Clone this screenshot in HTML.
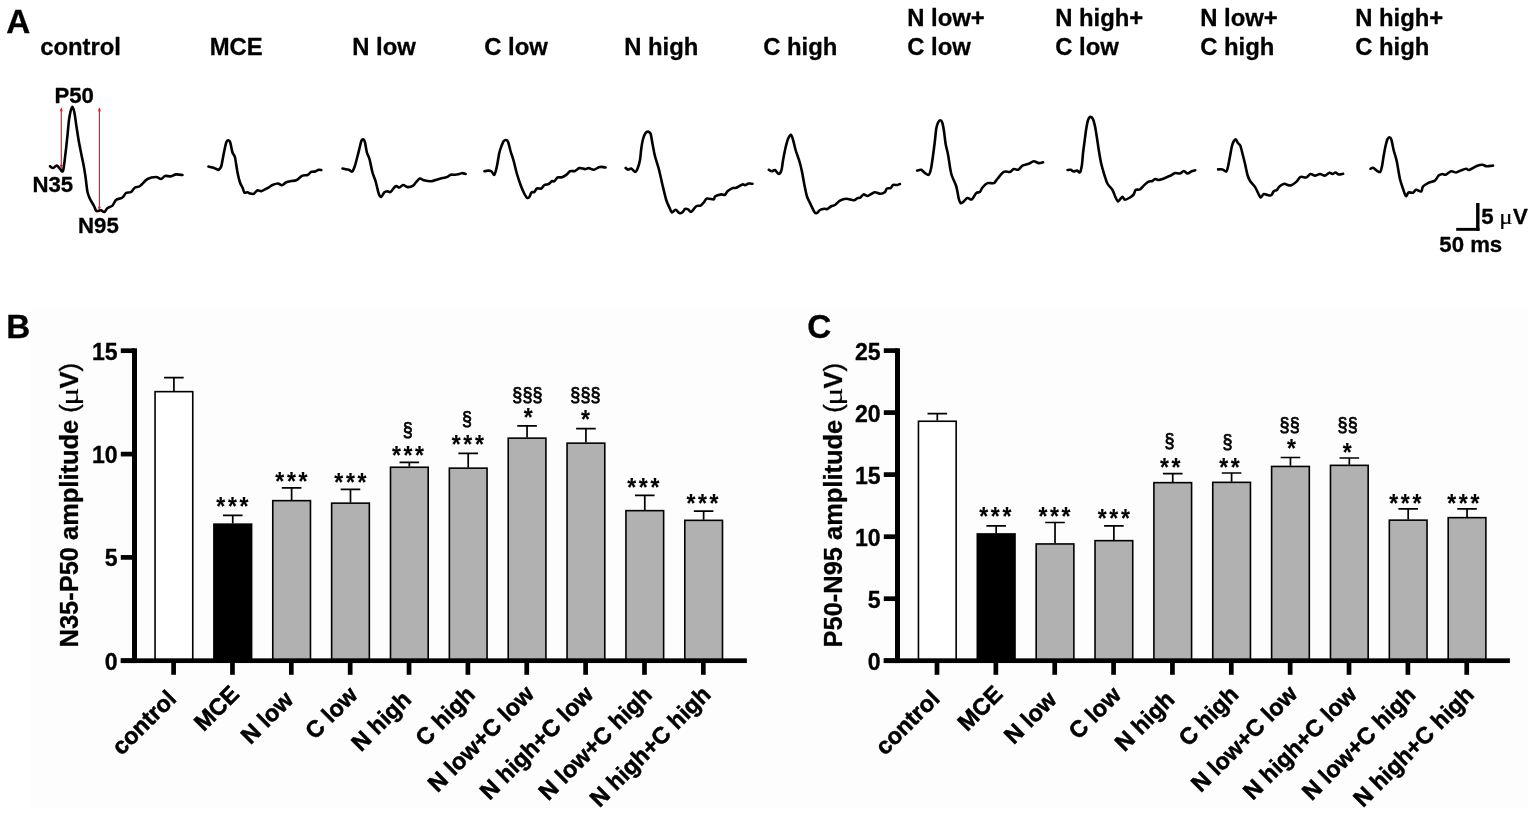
<!DOCTYPE html>
<html lang="en"><head><meta charset="utf-8"><title>PERG traces and amplitudes</title>
<style>
html,body{margin:0;padding:0;background:#fff;}
body{width:1535px;height:815px;overflow:hidden;}
svg{display:block;filter:blur(0.45px);}
text{font-family:"Liberation Sans", sans-serif;font-weight:700;fill:#000;font-kerning:none;stroke:#000;stroke-width:0.3px;stroke-linejoin:round;}
.pl{font-size:33.3px;}
.tl{font-size:23.85px;}
.wl{font-size:22.2px;}
.tk{font-size:23.1px;}
.xl{font-size:23.4px;stroke-width:0.55px;}
.yl{font-size:25.45px;}
.mu{font-family:"Liberation Serif", serif;font-weight:400;stroke-width:0.2px;}
.pr{font-weight:400;stroke-width:0.45px;}
.st{font-size:25.5px;letter-spacing:2.97px;stroke-width:0.1px;}
.sc{font-size:20.4px;font-weight:400;letter-spacing:0.25px;stroke-width:0.75px;}
.tr{fill:none;stroke:#000;stroke-width:2.6;stroke-linejoin:round;stroke-linecap:round;}
.eb{fill:none;stroke:#000;stroke-width:1.7;}
.br{stroke:#000;stroke-width:1.6;}
.ar{fill:none;stroke:#e6201c;stroke-width:1.2;}
.ah{fill:#e6201c;stroke:none;}
</style></head><body>
<svg width="1535" height="815" viewBox="0 0 1535 815" role="img" aria-label="Pattern electroretinogram traces and amplitude bar charts">
<rect x="0" y="0" width="1535" height="815" fill="#fff"/>
<rect x="31" y="308" width="1497" height="500" fill="#fdfdfd"/>
<text transform="translate(6.2 32.8) scale(1 1.025)" class="pl">A</text>
<text transform="translate(6.3 338.2) scale(1 1.025)" class="pl">B</text>
<text transform="translate(807.3 338.2) scale(1 1.025)" class="pl">C</text>
<text x="40.2" y="54.7" class="tl">control</text>
<text x="209.7" y="54.7" class="tl">MCE</text>
<text x="352.2" y="54.7" class="tl">N low</text>
<text x="484.2" y="54.7" class="tl">C low</text>
<text x="624.2" y="54.7" class="tl">N high</text>
<text x="763.2" y="54.7" class="tl">C high</text>
<text x="907.2" y="25.7" class="tl">N low+</text>
<text x="907.2" y="54.7" class="tl">C low</text>
<text x="1055.2" y="25.7" class="tl">N high+</text>
<text x="1055.2" y="54.7" class="tl">C low</text>
<text x="1200.2" y="25.7" class="tl">N low+</text>
<text x="1200.2" y="54.7" class="tl">C high</text>
<text x="1355.2" y="25.7" class="tl">N high+</text>
<text x="1355.2" y="54.7" class="tl">C high</text>
<text transform="translate(54.4 102.7) scale(1 1.03)" class="wl">P50</text>
<text transform="translate(32.4 191.7) scale(1 1.03)" class="wl">N35</text>
<text transform="translate(78.1 232.6) scale(1 1.03)" class="wl">N95</text>
<path d="M61.3 108.5V167.5" class="ar"/><path d="M59.8 111.2L61.3 107.2L62.8 111.2ZM59.8 164.8L61.3 168.8L62.8 164.8Z" class="ah"/>
<path d="M99.4 108.5V209.5" class="ar"/><path d="M97.9 111.2L99.4 107.2L100.9 111.2ZM97.9 206.8L99.4 210.8L100.9 206.8Z" class="ah"/>
<path class="tr" d="M50 166.25C50.47 166.51 52.07 168.1 53.1 168C54.13 167.9 55.87 165.48 56.9 165.6C57.93 165.72 59.07 168.05 60 168.8C60.93 169.55 62.26 173.04 63.1 170.6C63.94 168.16 64.94 157.84 65.6 152.5C66.26 147.16 66.99 139.88 67.5 135C68.01 130.12 68.53 123.56 69 120C69.47 116.44 70.07 113.22 70.6 111.25C71.12 109.28 71.93 106.71 72.5 106.9C73.07 107.09 73.84 109.78 74.4 112.5C74.96 115.22 75.6 120.72 76.25 125C76.9 129.28 78 136.69 78.75 141C79.5 145.31 80.5 150 81.25 153.75C82 157.5 83.1 162.44 83.75 166C84.4 169.56 85.04 173.6 85.6 177.5C86.16 181.4 86.84 188.78 87.5 192C88.16 195.22 89.03 196.9 90 199C90.97 201.1 93.1 204.26 94 206C94.9 207.74 95.4 209.85 96 210.6C96.6 211.35 97.25 211.04 98 211C98.75 210.96 100.04 210.15 101 210.3C101.96 210.45 103.43 212.34 104.4 212C105.38 211.66 106.28 208.96 107.5 208C108.72 207.04 111.22 206.8 112.5 205.6C113.78 204.4 114.5 201.22 116 200C117.5 198.78 121 198.55 122.5 197.5C124 196.45 124.72 193.82 126 193C127.28 192.18 129.65 192.82 131 192C132.35 191.18 133.65 188.4 135 187.5C136.35 186.6 138.12 187.28 140 186C141.88 184.72 145.1 180.35 147.5 179C149.9 177.65 153.97 177 156 177C158.03 177 159.65 179.15 161 179C162.35 178.85 163.5 176.41 165 176C166.5 175.59 169.35 176.54 171 176.3C172.65 176.06 174.28 174.59 176 174.4C177.72 174.21 181.53 174.91 182.5 175"/>
<path class="tr" d="M208.5 166.5C209.1 166.65 211.33 167.12 212.5 167.5C213.67 167.88 215.36 168.66 216.3 169C217.24 169.34 218.01 170.16 218.75 169.75C219.49 169.34 220.61 168.09 221.25 166.25C221.89 164.41 222.44 160.31 223 157.5C223.56 154.69 224.47 149.84 225 147.5C225.53 145.16 225.97 142.99 226.5 141.9C227.03 140.81 227.94 140.16 228.5 140.25C229.06 140.34 229.65 140.66 230.25 142.5C230.85 144.34 231.79 150.25 232.5 152.5C233.21 154.75 234.25 154.5 235 157.5C235.75 160.5 236.75 168.75 237.5 172.5C238.25 176.25 239.25 180.25 240 182.5C240.75 184.75 241.84 186 242.5 187.5C243.16 189 243.65 191.79 244.4 192.5C245.15 193.21 246.66 192.1 247.5 192.25C248.34 192.4 249.06 193.28 250 193.5C250.94 193.72 252.62 194.24 253.75 193.75C254.88 193.26 256.38 190.62 257.5 190.25C258.62 189.88 259.75 191.57 261.25 191.25C262.75 190.93 265.81 189.04 267.5 188.1C269.19 187.16 270.93 185.69 272.5 185C274.07 184.31 276.59 183.46 278 183.5C279.41 183.54 280.66 185.44 281.9 185.25C283.14 185.06 284.85 182.89 286.25 182.25C287.65 181.61 289.75 181.3 291.25 181C292.75 180.7 294.56 181.06 296.25 180.25C297.94 179.44 300.81 176.39 302.5 175.6C304.19 174.81 306.19 175.56 307.5 175C308.81 174.44 310.12 172.43 311.25 171.9C312.38 171.38 313.88 171.82 315 171.5C316.12 171.18 317.81 169.97 318.75 169.75C319.69 169.53 320.88 169.96 321.25 170"/>
<path class="tr" d="M342.5 168.5C343.16 168.63 345.87 169.18 346.9 169.4C347.93 169.62 348.6 169.69 349.4 170C350.2 170.31 351.45 172.06 352.25 171.5C353.05 170.94 353.96 168.54 354.75 166.25C355.54 163.96 356.71 159.25 357.5 156.25C358.29 153.25 359.4 148.6 360 146.25C360.6 143.9 360.98 141.63 361.5 140.6C362.02 139.57 362.98 139.12 363.5 139.4C364.02 139.69 364.49 140.53 365 142.5C365.51 144.47 366.24 150.06 366.9 152.5C367.56 154.94 368.56 155.75 369.4 158.75C370.24 161.75 371.57 169.12 372.5 172.5C373.43 175.88 374.66 178.06 375.6 181.25C376.54 184.44 377.9 191.4 378.75 193.75C379.6 196.1 380.4 197.12 381.25 196.9C382.1 196.68 383.46 193.1 384.4 192.25C385.34 191.4 386.57 191.3 387.5 191.25C388.43 191.2 389.38 192.65 390.6 191.9C391.82 191.15 394.28 186.91 395.6 186.25C396.92 185.59 398.27 187.69 399.4 187.5C400.52 187.31 401.8 185.06 403.1 185C404.41 184.94 406.6 187.01 408.1 187.1C409.6 187.19 411.88 186.38 413.1 185.6C414.32 184.82 415.22 182.97 416.25 181.9C417.28 180.84 418.88 178.75 420 178.5C421.12 178.25 422.06 179.84 423.75 180.25C425.44 180.66 429.19 181.38 431.25 181.25C433.31 181.12 435.81 179.87 437.5 179.4C439.19 178.93 441 178.47 442.5 178.1C444 177.72 446.28 177.4 447.5 176.9C448.72 176.4 449.48 175.07 450.6 174.75C451.73 174.43 453.59 174.9 455 174.75C456.41 174.6 458.88 174 460 173.75C461.12 173.5 461.66 173.06 462.5 173.1C463.34 173.14 465.13 173.87 465.6 174"/>
<path class="tr" d="M484.4 171.25C484.95 171.15 487.07 170.6 488.1 170.6C489.13 170.6 490.31 170.63 491.25 171.25C492.19 171.87 493.55 175.5 494.4 174.75C495.25 174 496.15 169.59 496.9 166.25C497.65 162.91 498.65 155.69 499.4 152.5C500.15 149.31 501.25 146.72 501.9 145C502.55 143.28 503.13 141.75 503.75 141C504.37 140.25 505.35 139.87 506 140C506.65 140.13 507.41 140.21 508.1 141.9C508.79 143.59 509.75 148.35 510.6 151.25C511.45 154.15 512.81 157.88 513.75 161.25C514.69 164.62 515.87 170.19 516.9 173.75C517.93 177.31 519.57 182.19 520.6 185C521.63 187.81 522.81 190.59 523.75 192.5C524.69 194.41 526.05 197.09 526.9 197.75C527.75 198.41 528.71 197.69 529.4 196.9C530.09 196.11 530.75 193.25 531.5 192.5C532.25 191.75 533.59 192.5 534.4 191.9C535.21 191.3 535.87 189.01 536.9 188.5C537.93 187.99 540.12 189.03 541.25 188.5C542.38 187.97 543.27 185.68 544.4 185C545.52 184.32 547.62 184.56 548.75 184C549.88 183.44 551.05 181.66 551.9 181.25C552.75 180.84 553.56 181.81 554.4 181.25C555.24 180.69 556.38 178.1 557.5 177.5C558.62 176.9 560.49 177.72 561.9 177.25C563.31 176.78 565.68 175.3 566.9 174.4C568.12 173.5 568.78 171.76 570 171.25C571.22 170.74 573.59 171.47 575 171C576.41 170.53 577.9 168.38 579.4 168.1C580.9 167.81 583.6 169.1 585 169.1C586.4 169.1 587.44 168 588.75 168.1C590.06 168.2 592.25 169.88 593.75 169.75C595.25 169.62 597.53 167.68 598.75 167.25C599.97 166.82 600.87 166.86 601.9 166.9C602.93 166.94 605.05 167.41 605.6 167.5"/>
<path class="tr" d="M625.6 167.9C625.98 168.18 627.25 169.66 628.1 169.75C628.95 169.84 630.22 168.18 631.25 168.5C632.28 168.82 634.06 171.86 635 171.9C635.94 171.94 636.75 170.53 637.5 168.75C638.25 166.97 639.44 163 640 160C640.56 157 640.78 151.94 641.25 148.75C641.72 145.56 642.45 141.1 643.1 138.75C643.75 136.4 644.85 134.17 645.6 133.1C646.35 132.03 647.35 131.5 648.1 131.6C648.85 131.7 649.94 131.93 650.6 133.75C651.26 135.57 651.84 140.38 652.5 143.75C653.16 147.12 654.06 152.5 655 156.25C655.94 160 657.62 164.44 658.75 168.75C659.88 173.06 661.38 180.31 662.5 185C663.62 189.69 665.22 196.62 666.25 200C667.28 203.38 668.55 205.62 669.4 207.5C670.25 209.38 670.97 212.16 671.9 212.5C672.83 212.84 674.48 209.66 675.6 209.75C676.73 209.84 678.37 212.72 679.4 213.1C680.43 213.47 681.66 212.87 682.5 212.25C683.34 211.63 684.16 209.43 685 209C685.84 208.57 687.16 208.97 688.1 209.4C689.04 209.84 690.03 212.37 691.25 211.9C692.47 211.43 694.85 207.19 696.25 206.25C697.65 205.31 699.48 206.16 700.6 205.6C701.73 205.04 702.81 203.56 703.75 202.5C704.69 201.44 705.4 198.97 706.9 198.5C708.4 198.03 712.53 199.7 713.75 199.4C714.97 199.1 713.88 197.25 715 196.5C716.12 195.75 719.75 194.66 721.25 194.4C722.75 194.14 724.06 195.22 725 194.75C725.94 194.28 726.38 192.25 727.5 191.25C728.62 190.25 731.19 188.62 732.5 188.1C733.81 187.57 734.75 188.31 736.25 187.75C737.75 187.19 741.19 184.78 742.5 184.4C743.81 184.03 744.06 185.38 745 185.25C745.94 185.12 747.62 183.72 748.75 183.5C749.88 183.28 751.94 183.71 752.5 183.75"/>
<path class="tr" d="M768.75 169.75C769.22 169.97 770.96 171.21 771.9 171.25C772.84 171.29 773.97 169.59 775 170C776.03 170.41 777.77 174 778.75 174C779.73 174 780.85 172.1 781.5 170C782.15 167.9 782.49 163.38 783.1 160C783.72 156.62 784.85 150.69 785.6 147.5C786.35 144.31 787.29 140.66 788.1 138.75C788.91 136.84 790.25 134.56 791 134.75C791.75 134.94 792.41 137.71 793.1 140C793.79 142.29 794.65 146.81 795.6 150C796.55 153.19 798.45 158.06 799.4 161.25C800.35 164.44 801.15 167.69 801.9 171.25C802.65 174.81 803.65 181.25 804.4 185C805.15 188.75 806.06 193.53 806.9 196.25C807.74 198.97 808.88 200.75 810 203.1C811.12 205.45 813.37 210.4 814.4 211.9C815.43 213.4 816.06 213.38 816.9 213.1C817.74 212.81 818.88 210.65 820 210C821.12 209.35 823.27 208.9 824.4 208.75C825.52 208.6 826.47 209.38 827.5 209C828.53 208.62 830.12 206.85 831.25 206.25C832.38 205.65 833.69 205.85 835 205C836.31 204.15 838.31 201.54 840 200.6C841.69 199.66 844.19 198.8 846.25 198.75C848.31 198.7 852.06 200.35 853.75 200.25C855.44 200.15 856.47 198.51 857.5 198.1C858.53 197.69 859.7 198.06 860.6 197.5C861.5 196.94 862.47 194.62 863.5 194.4C864.53 194.18 866.34 196.06 867.5 196C868.66 195.94 870.12 194.56 871.25 194C872.38 193.44 873.6 192.29 875 192.25C876.4 192.21 879.1 193.8 880.6 193.75C882.1 193.7 884.06 192.69 885 191.9C885.94 191.11 886.06 189.07 886.9 188.5C887.74 187.93 889.67 188.62 890.6 188.1C891.53 187.57 892.07 185.47 893.1 185C894.13 184.53 896.47 185.15 897.5 185C898.53 184.85 899.62 184.15 900 184"/>
<path class="tr" d="M917.25 170.6C917.85 170.47 920.09 169.38 921.25 169.75C922.41 170.12 923.88 172.35 925 173.1C926.12 173.85 927.85 175.4 928.75 174.75C929.65 174.1 930.35 171.71 931 168.75C931.65 165.79 932.5 159.31 933.1 155C933.7 150.69 934.53 143.94 935 140C935.47 136.06 935.78 131.38 936.25 128.75C936.72 126.12 937.5 123.78 938.1 122.5C938.7 121.22 939.63 120.25 940.25 120.25C940.87 120.25 941.69 120.85 942.25 122.5C942.81 124.15 943.5 128.06 944 131.25C944.5 134.44 944.99 140.19 945.6 143.75C946.22 147.31 947.25 150.5 948.1 155C948.95 159.5 950.03 169.06 951.25 173.75C952.47 178.44 955.12 182.5 956.25 186.25C957.38 190 958.1 196.22 958.75 198.75C959.4 201.28 959.95 202.63 960.6 203.1C961.25 203.57 962.07 202.65 963.1 201.9C964.13 201.15 966.18 198.47 967.5 198.1C968.82 197.72 970.59 200.15 971.9 199.4C973.21 198.65 975.03 194.22 976.25 193.1C977.47 191.97 979.06 192.74 980 191.9C980.94 191.06 981.38 188.82 982.5 187.5C983.62 186.18 985.81 183.76 987.5 183.1C989.19 182.44 992.25 183.75 993.75 183.1C995.25 182.45 996 180.43 997.5 178.75C999 177.07 1001.88 172.93 1003.75 171.9C1005.62 170.87 1008.5 172.34 1010 171.9C1011.5 171.47 1012.53 169.32 1013.75 169C1014.97 168.68 1016.79 170.26 1018.1 169.75C1019.41 169.24 1020.9 166.5 1022.5 165.6C1024.1 164.7 1027.06 164.4 1028.75 163.75C1030.44 163.1 1032.25 161.35 1033.75 161.25C1035.25 161.15 1037.35 162.95 1038.75 163.1C1040.15 163.25 1042.45 162.38 1043.1 162.25"/>
<path class="tr" d="M1067.5 170C1067.96 169.96 1069.66 169.53 1070.6 169.75C1071.54 169.97 1072.81 171.37 1073.75 171.5C1074.69 171.63 1075.96 170.49 1076.9 170.6C1077.84 170.71 1079.25 173.09 1080 172.25C1080.75 171.41 1081.44 167.96 1081.9 165C1082.37 162.04 1082.67 156.25 1083.1 152.5C1083.53 148.75 1084.28 143.56 1084.75 140C1085.22 136.44 1085.75 131.75 1086.25 128.75C1086.75 125.75 1087.45 121.78 1088.1 120C1088.75 118.22 1089.85 116.99 1090.6 116.9C1091.35 116.81 1092.44 118 1093.1 119.4C1093.76 120.8 1094.43 123.53 1095 126.25C1095.57 128.97 1096.34 133.94 1096.9 137.5C1097.46 141.06 1098.1 146.06 1098.75 150C1099.4 153.94 1100.4 160 1101.25 163.75C1102.1 167.5 1103.46 172 1104.4 175C1105.34 178 1106.29 181.5 1107.5 183.75C1108.71 186 1111.29 187.94 1112.5 190C1113.71 192.06 1114.79 195.78 1115.6 197.5C1116.41 199.22 1117.24 201.22 1117.9 201.5C1118.56 201.78 1119.31 200.09 1120 199.4C1120.69 198.71 1121.75 196.85 1122.5 196.9C1123.25 196.95 1123.88 199.66 1125 199.75C1126.12 199.84 1128.69 198.3 1130 197.5C1131.31 196.7 1132.91 195.53 1133.75 194.4C1134.59 193.28 1134.66 190.75 1135.6 190C1136.54 189.25 1138.78 190.06 1140 189.4C1141.22 188.74 1142.54 186.72 1143.75 185.6C1144.96 184.47 1146.79 182.59 1148.1 181.9C1149.41 181.21 1151.46 181.44 1152.5 181C1153.54 180.56 1154.06 179.15 1155 179C1155.94 178.85 1157.62 179.99 1158.75 180C1159.88 180.01 1161.19 179.56 1162.5 179.1C1163.81 178.63 1166.19 177.48 1167.5 176.9C1168.81 176.32 1170.12 175.82 1171.25 175.25C1172.38 174.68 1173.69 173.36 1175 173.1C1176.31 172.84 1178.69 173.81 1180 173.5C1181.31 173.19 1182.62 171 1183.75 171C1184.88 171 1186.38 173.43 1187.5 173.5C1188.62 173.57 1190.09 171.99 1191.25 171.5C1192.41 171.01 1194.65 170.44 1195.25 170.25"/>
<path class="tr" d="M1218.1 169.4C1218.76 169.4 1221.28 169.09 1222.5 169.4C1223.72 169.72 1225.41 171.97 1226.25 171.5C1227.09 171.03 1227.54 168.54 1228.1 166.25C1228.66 163.96 1229.43 159.25 1230 156.25C1230.57 153.25 1231.34 148.5 1231.9 146.25C1232.46 144 1233.15 142.28 1233.75 141.25C1234.35 140.22 1235.3 139.18 1235.9 139.4C1236.5 139.62 1237.1 141.82 1237.75 142.75C1238.4 143.68 1239.54 143.95 1240.25 145.6C1240.96 147.25 1241.79 151.03 1242.5 153.75C1243.21 156.47 1244.25 160.56 1245 163.75C1245.75 166.94 1246.71 172.38 1247.5 175C1248.29 177.62 1249.12 179.47 1250.25 181.25C1251.38 183.03 1253.82 185.12 1255 186.9C1256.18 188.68 1257.26 191.51 1258.1 193.1C1258.94 194.69 1259.75 197.37 1260.6 197.5C1261.45 197.63 1262.71 194.38 1263.75 194C1264.79 193.62 1266.38 194.81 1267.5 195C1268.62 195.19 1270.31 195.81 1271.25 195.25C1272.19 194.69 1272.9 192.04 1273.75 191.25C1274.6 190.46 1276.05 190.71 1276.9 190C1277.75 189.29 1278.28 187.44 1279.4 186.5C1280.53 185.56 1283.19 183.97 1284.4 183.75C1285.62 183.53 1286.47 184.78 1287.5 185C1288.53 185.22 1289.94 185.72 1291.25 185.25C1292.56 184.78 1294.85 183.15 1296.25 181.9C1297.65 180.65 1299.1 177.56 1300.6 176.9C1302.1 176.24 1304.75 177.94 1306.25 177.5C1307.75 177.06 1309.29 174.28 1310.6 174C1311.91 173.72 1313.59 175.6 1315 175.6C1316.41 175.6 1318.5 174 1320 174C1321.5 174 1323.59 175.79 1325 175.6C1326.41 175.41 1328.28 172.99 1329.4 172.75C1330.53 172.51 1331.57 174.04 1332.5 174C1333.43 173.96 1334.66 172.44 1335.6 172.5C1336.54 172.56 1337.62 174.21 1338.75 174.4C1339.88 174.59 1342.45 173.85 1343.1 173.75"/>
<path class="tr" d="M1370.5 168.75C1370.88 168.6 1372.06 167.47 1373 167.75C1373.94 168.03 1375.66 169.98 1376.75 170.6C1377.84 171.22 1379.46 172.55 1380.25 171.9C1381.04 171.25 1381.5 168.6 1382 166.25C1382.5 163.9 1383.07 159.25 1383.6 156.25C1384.12 153.25 1384.93 148.78 1385.5 146.25C1386.07 143.72 1386.8 140.75 1387.4 139.4C1388 138.05 1388.88 137.16 1389.5 137.25C1390.12 137.34 1390.88 138.09 1391.5 140C1392.12 141.91 1392.81 146.81 1393.6 150C1394.39 153.19 1395.81 156.94 1396.75 161.25C1397.69 165.56 1398.96 174.62 1399.9 178.75C1400.84 182.88 1402.1 186.16 1403 188.75C1403.9 191.34 1405.06 195.44 1405.9 196C1406.74 196.56 1407.53 192.99 1408.6 192.5C1409.66 192.01 1411.88 193.16 1413 192.75C1414.12 192.34 1414.88 189.94 1416.1 189.75C1417.31 189.56 1420.06 191.99 1421.1 191.5C1422.13 191.01 1421.96 187.76 1423 186.5C1424.04 185.24 1426.21 183.98 1428 183.1C1429.79 182.22 1433.31 181.72 1434.9 180.6C1436.49 179.47 1437.47 176.59 1438.6 175.6C1439.72 174.61 1441.37 174.13 1442.4 174C1443.44 173.87 1444.19 175.16 1445.5 174.75C1446.81 174.34 1449.51 171.59 1451.1 171.25C1452.69 170.91 1454.69 172.6 1456.1 172.5C1457.51 172.4 1459 171.16 1460.5 170.6C1462 170.04 1464.79 168.84 1466.1 168.75C1467.41 168.66 1467.65 170.41 1469.25 170C1470.85 169.59 1474.78 166.79 1476.75 166C1478.72 165.21 1480.9 164.71 1482.4 164.75C1483.9 164.79 1485.16 166.12 1486.75 166.25C1488.34 166.38 1492.06 165.7 1493 165.6"/>
<rect x="1476.1" y="203" width="3.4" height="27.8" fill="#000"/>
<rect x="1456.2" y="227.9" width="23.3" height="2.9" fill="#000"/>
<text transform="translate(1481.3 223.9) scale(1 1.03)" class="wl">5</text>
<text transform="translate(1499.2 223.6) scale(1.2 1)" class="wl mu" style="font-size:20.6px">μ</text>
<text transform="translate(1513.1 223.9) scale(1 1.03)" class="wl">V</text>
<text transform="translate(1439.3 252.1) scale(1 1.03)" class="wl">50 ms</text>
<path d="M173.9 391 V377.6 M164.1 377.6 H183.7" class="eb"/>
<rect x="155.05" y="391.65" width="37.7" height="268.05" fill="#ffffff" class="br"/>
<rect x="171.25" y="660.7" width="4.7" height="14.1" fill="#000"/>
<path d="M232.76 523.5 V515.3 M222.96 515.3 H242.56" class="eb"/>
<rect x="213.91" y="524.15" width="37.7" height="135.55" fill="#000000" class="br"/>
<rect x="230.11" y="660.7" width="4.7" height="14.1" fill="#000"/>
<text transform="translate(216.31 514.66) scale(0.9 1)" class="st">***</text>
<path d="M291.62 500 V487.9 M281.82 487.9 H301.42" class="eb"/>
<rect x="272.77" y="500.65" width="37.7" height="159.05" fill="#b1b1b1" class="br"/>
<rect x="288.97" y="660.7" width="4.7" height="14.1" fill="#000"/>
<text transform="translate(275.31 490.26) scale(0.9 1)" class="st">***</text>
<path d="M350.48 502.5 V489.4 M340.68 489.4 H360.28" class="eb"/>
<rect x="331.63" y="503.15" width="37.7" height="156.55" fill="#b1b1b1" class="br"/>
<rect x="347.83" y="660.7" width="4.7" height="14.1" fill="#000"/>
<text transform="translate(334.31 491.16) scale(0.9 1)" class="st">***</text>
<path d="M409.34 466.6 V462.3 M399.54 462.3 H419.14" class="eb"/>
<rect x="390.49" y="467.25" width="37.7" height="192.45" fill="#b1b1b1" class="br"/>
<rect x="406.69" y="660.7" width="4.7" height="14.1" fill="#000"/>
<text transform="translate(391.91 464.26) scale(0.9 1)" class="st">***</text>
<text transform="translate(402.71 437.29) scale(0.88 1)" class="sc">§</text>
<path d="M468.2 467.5 V453.4 M458.4 453.4 H478" class="eb"/>
<rect x="449.35" y="468.15" width="37.7" height="191.55" fill="#b1b1b1" class="br"/>
<rect x="465.55" y="660.7" width="4.7" height="14.1" fill="#000"/>
<text transform="translate(451.71 453.36) scale(0.9 1)" class="st">***</text>
<text transform="translate(461.91 425.79) scale(0.88 1)" class="sc">§</text>
<path d="M527.06 437.5 V425.9 M517.26 425.9 H536.86" class="eb"/>
<rect x="508.21" y="438.15" width="37.7" height="221.55" fill="#b1b1b1" class="br"/>
<rect x="524.41" y="660.7" width="4.7" height="14.1" fill="#000"/>
<text transform="translate(523.81 425.96) scale(0.9 1)" class="st">*</text>
<text transform="translate(512.21 402.39) scale(0.88 1)" class="sc">§§§</text>
<path d="M585.92 442.5 V428.7 M576.12 428.7 H595.72" class="eb"/>
<rect x="567.07" y="443.15" width="37.7" height="216.55" fill="#b1b1b1" class="br"/>
<rect x="583.27" y="660.7" width="4.7" height="14.1" fill="#000"/>
<text transform="translate(581.11 427.86) scale(0.9 1)" class="st">*</text>
<text transform="translate(570.21 402.39) scale(0.88 1)" class="sc">§§§</text>
<path d="M644.78 510 V495.3 M634.98 495.3 H654.58" class="eb"/>
<rect x="625.93" y="510.65" width="37.7" height="149.05" fill="#b1b1b1" class="br"/>
<rect x="642.13" y="660.7" width="4.7" height="14.1" fill="#000"/>
<text transform="translate(627.21 495.86) scale(0.9 1)" class="st">***</text>
<path d="M703.64 519.7 V511.2 M693.84 511.2 H713.44" class="eb"/>
<rect x="684.79" y="520.35" width="37.7" height="139.35" fill="#b1b1b1" class="br"/>
<rect x="700.99" y="660.7" width="4.7" height="14.1" fill="#000"/>
<text transform="translate(686.41 511.96) scale(0.9 1)" class="st">***</text>
<rect x="132" y="348.3" width="5" height="314.75" fill="#000"/>
<rect x="120.8" y="658.35" width="626.1" height="4.7" fill="#000"/>
<rect x="120.8" y="348.35" width="13.7" height="4.7" fill="#000"/>
<text transform="translate(117.7 359.7) scale(1 1.04)" class="tk" text-anchor="end">15</text>
<rect x="120.8" y="451.75" width="13.7" height="4.7" fill="#000"/>
<text transform="translate(117.7 463.1) scale(1 1.04)" class="tk" text-anchor="end">10</text>
<rect x="120.8" y="555.05" width="13.7" height="4.7" fill="#000"/>
<text transform="translate(117.7 566.4) scale(1 1.04)" class="tk" text-anchor="end">5</text>
<rect x="120.8" y="658.35" width="13.7" height="4.7" fill="#000"/>
<text transform="translate(117.7 669.7) scale(1 1.04)" class="tk" text-anchor="end">0</text>
<text transform="translate(177.6 700.2) rotate(-45)" text-anchor="end" class="xl">control</text>
<text transform="translate(240.56 695.5) rotate(-45)" text-anchor="end" class="xl">MCE</text>
<text transform="translate(294.52 701.2) rotate(-45)" text-anchor="end" class="xl">N low</text>
<text transform="translate(358.88 696.5) rotate(-45)" text-anchor="end" class="xl">C low</text>
<text transform="translate(412.49 701) rotate(-45)" text-anchor="end" class="xl">N high</text>
<text transform="translate(476.35 696) rotate(-45)" text-anchor="end" class="xl">C high</text>
<text transform="translate(535.26 695.5) rotate(-45)" text-anchor="end" class="xl">N low+C low</text>
<text transform="translate(594.62 695.8) rotate(-45)" text-anchor="end" class="xl">N high+C low</text>
<text transform="translate(653.48 696.2) rotate(-45)" text-anchor="end" class="xl">N low+C high</text>
<text transform="translate(712.04 695.8) rotate(-45)" text-anchor="end" class="xl">N high+C high</text>
<g transform="translate(78.2 647.4) rotate(-90)"><text x="0" y="0" class="yl">N35-P50 amplitude <tspan class="pr">(</tspan></text><text transform="translate(241.65 0) scale(1.3 1)" class="yl mu" style="font-size:26.2px">μ</text><text x="258.91" y="0" class="yl">V<tspan class="pr">)</tspan></text></g>
<path d="M937.3 420.6 V413.7 M927.5 413.7 H947.1" class="eb"/>
<rect x="918.45" y="421.25" width="37.7" height="238.45" fill="#ffffff" class="br"/>
<rect x="934.65" y="660.7" width="4.7" height="14.1" fill="#000"/>
<path d="M996.16 533.3 V525.8 M986.36 525.8 H1005.96" class="eb"/>
<rect x="977.31" y="533.95" width="37.7" height="125.75" fill="#000000" class="br"/>
<rect x="993.51" y="660.7" width="4.7" height="14.1" fill="#000"/>
<text transform="translate(979.21 524.66) scale(0.9 1)" class="st">***</text>
<path d="M1055.02 543.3 V522.5 M1045.22 522.5 H1064.82" class="eb"/>
<rect x="1036.17" y="543.95" width="37.7" height="115.75" fill="#b1b1b1" class="br"/>
<rect x="1052.37" y="660.7" width="4.7" height="14.1" fill="#000"/>
<text transform="translate(1038.41 524.66) scale(0.9 1)" class="st">***</text>
<path d="M1113.88 540 V525.8 M1104.08 525.8 H1123.68" class="eb"/>
<rect x="1095.03" y="540.65" width="37.7" height="119.05" fill="#b1b1b1" class="br"/>
<rect x="1111.23" y="660.7" width="4.7" height="14.1" fill="#000"/>
<text transform="translate(1097.71 526.66) scale(0.9 1)" class="st">***</text>
<path d="M1172.74 482 V473.7 M1162.94 473.7 H1182.54" class="eb"/>
<rect x="1153.89" y="482.65" width="37.7" height="177.05" fill="#b1b1b1" class="br"/>
<rect x="1170.09" y="660.7" width="4.7" height="14.1" fill="#000"/>
<text transform="translate(1160.01 475.86) scale(0.9 1)" class="st">**</text>
<text transform="translate(1164.61 447.79) scale(0.88 1)" class="sc">§</text>
<path d="M1231.6 481.7 V473 M1221.8 473 H1241.4" class="eb"/>
<rect x="1212.75" y="482.35" width="37.7" height="177.35" fill="#b1b1b1" class="br"/>
<rect x="1228.95" y="660.7" width="4.7" height="14.1" fill="#000"/>
<text transform="translate(1219.21 475.86) scale(0.9 1)" class="st">**</text>
<text transform="translate(1222.61 448.79) scale(0.88 1)" class="sc">§</text>
<path d="M1290.46 465.8 V457.5 M1280.66 457.5 H1300.26" class="eb"/>
<rect x="1271.61" y="466.45" width="37.7" height="193.25" fill="#b1b1b1" class="br"/>
<rect x="1287.81" y="660.7" width="4.7" height="14.1" fill="#000"/>
<text transform="translate(1286.91 457.06) scale(0.9 1)" class="st">*</text>
<text transform="translate(1279.51 431.59) scale(0.88 1)" class="sc">§§</text>
<path d="M1349.32 464.7 V458 M1339.52 458 H1359.12" class="eb"/>
<rect x="1330.47" y="465.35" width="37.7" height="194.35" fill="#b1b1b1" class="br"/>
<rect x="1346.67" y="660.7" width="4.7" height="14.1" fill="#000"/>
<text transform="translate(1342.81 461.36) scale(0.9 1)" class="st">*</text>
<text transform="translate(1337.51 432.49) scale(0.88 1)" class="sc">§§</text>
<path d="M1408.18 519.5 V508.8 M1398.38 508.8 H1417.98" class="eb"/>
<rect x="1389.33" y="520.15" width="37.7" height="139.55" fill="#b1b1b1" class="br"/>
<rect x="1405.53" y="660.7" width="4.7" height="14.1" fill="#000"/>
<text transform="translate(1389.21 511.66) scale(0.9 1)" class="st">***</text>
<path d="M1467.04 517 V508.8 M1457.24 508.8 H1476.84" class="eb"/>
<rect x="1448.19" y="517.65" width="37.7" height="142.05" fill="#b1b1b1" class="br"/>
<rect x="1464.39" y="660.7" width="4.7" height="14.1" fill="#000"/>
<text transform="translate(1447.21 511.66) scale(0.9 1)" class="st">***</text>
<rect x="895" y="348.3" width="5" height="314.75" fill="#000"/>
<rect x="883.8" y="658.35" width="626.1" height="4.7" fill="#000"/>
<rect x="883.8" y="348.25" width="13.7" height="4.7" fill="#000"/>
<text transform="translate(880.7 359.6) scale(1 1.04)" class="tk" text-anchor="end">25</text>
<rect x="883.8" y="410.25" width="13.7" height="4.7" fill="#000"/>
<text transform="translate(880.7 421.6) scale(1 1.04)" class="tk" text-anchor="end">20</text>
<rect x="883.8" y="472.25" width="13.7" height="4.7" fill="#000"/>
<text transform="translate(880.7 483.6) scale(1 1.04)" class="tk" text-anchor="end">15</text>
<rect x="883.8" y="534.35" width="13.7" height="4.7" fill="#000"/>
<text transform="translate(880.7 545.7) scale(1 1.04)" class="tk" text-anchor="end">10</text>
<rect x="883.8" y="596.35" width="13.7" height="4.7" fill="#000"/>
<text transform="translate(880.7 607.7) scale(1 1.04)" class="tk" text-anchor="end">5</text>
<rect x="883.8" y="658.35" width="13.7" height="4.7" fill="#000"/>
<text transform="translate(880.7 669.7) scale(1 1.04)" class="tk" text-anchor="end">0</text>
<text transform="translate(941 700.2) rotate(-45)" text-anchor="end" class="xl">control</text>
<text transform="translate(1003.96 695.5) rotate(-45)" text-anchor="end" class="xl">MCE</text>
<text transform="translate(1057.92 701.2) rotate(-45)" text-anchor="end" class="xl">N low</text>
<text transform="translate(1122.28 696.5) rotate(-45)" text-anchor="end" class="xl">C low</text>
<text transform="translate(1175.89 701) rotate(-45)" text-anchor="end" class="xl">N high</text>
<text transform="translate(1239.75 696) rotate(-45)" text-anchor="end" class="xl">C high</text>
<text transform="translate(1298.66 695.5) rotate(-45)" text-anchor="end" class="xl">N low+C low</text>
<text transform="translate(1358.02 695.8) rotate(-45)" text-anchor="end" class="xl">N high+C low</text>
<text transform="translate(1416.88 696.2) rotate(-45)" text-anchor="end" class="xl">N low+C high</text>
<text transform="translate(1475.44 695.8) rotate(-45)" text-anchor="end" class="xl">N high+C high</text>
<g transform="translate(841.5 647.4) rotate(-90)"><text x="0" y="0" class="yl">P50-N95 amplitude <tspan class="pr">(</tspan></text><text transform="translate(241.65 0) scale(1.3 1)" class="yl mu" style="font-size:26.2px">μ</text><text x="258.91" y="0" class="yl">V<tspan class="pr">)</tspan></text></g>
</svg>
</body></html>
